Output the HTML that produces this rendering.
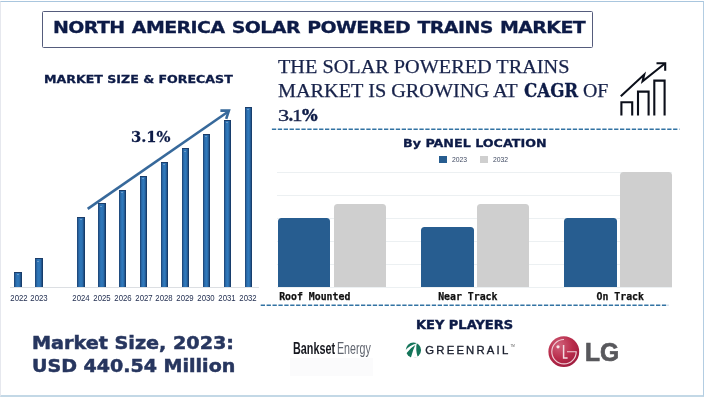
<!DOCTYPE html>
<html lang="en">
<head>
<meta charset="utf-8">
<title>North America Solar Powered Trains Market</title>
<style>
html,body{margin:0;padding:0;background:#fff;}
body{width:708px;height:401px;position:relative;overflow:hidden;font-family:"Liberation Sans",sans-serif;}
.abs{position:absolute;}
.t{position:absolute;white-space:nowrap;line-height:1;transform-origin:0 0;display:inline-block;}
.heavy{font-family:"DejaVu Sans","Liberation Sans",sans-serif;font-weight:bold;}
.frame{position:absolute;left:0;top:1px;width:704px;height:395.8px;box-sizing:border-box;border-top:1px solid #a9c6de;border-right:1.5px solid #b3cde2;border-bottom:2px solid #c3d8e6;border-left:1px solid #e6e8ee;}
.titlebox{position:absolute;left:42.2px;top:11.1px;width:550.7px;height:37.3px;box-sizing:border-box;border:1px solid #555c7c;border-radius:1.5px;}
.lb{position:absolute;bottom:114.2px;width:7.4px;background:linear-gradient(to right,#1b3f6e 0,#2c6fb0 26%,#3079bb 50%,#2b6cab 70%,#12305a 100%);border-top:1px solid #1c3c68;box-sizing:border-box;}
.lb::after{content:"";position:absolute;left:50%;top:1.2px;margin-left:-1.4px;width:0;height:0;border-left:1.4px solid transparent;border-right:1.4px solid transparent;border-top:1.6px solid #a9c0da;}
.yl{position:absolute;top:294px;font-size:8.4px;color:#1d2a4d;line-height:9px;width:30px;text-align:center;transform:scaleX(0.93);transform-origin:50% 50%;}
.grid{position:absolute;left:277px;width:395.4px;height:1px;background:#ecf0f2;}
.rb{position:absolute;border-radius:3.5px 3.5px 0 0;}
.b23{background:#275d90;}
.b32{background:#cfcfcf;}
.cat{position:absolute;top:290.9px;-webkit-text-stroke:0.25px #111;font-family:"DejaVu Sans Mono","Liberation Mono",monospace;font-weight:bold;font-size:9.85px;line-height:12px;color:#111;white-space:nowrap;}
.hd{font-family:"Liberation Serif",serif;font-size:19.5px;color:#17224a;-webkit-text-stroke:0.25px #17224a;}
.sb{font-family:"DejaVu Serif","Liberation Serif",serif;font-weight:bold;color:#0d1b47;-webkit-text-stroke:0.3px #0d1b47;}
</style>
</head>
<body>
<div class="frame"></div>

<!-- Title -->
<div class="titlebox"></div>
<div class="t heavy" id="title" style="transform:scaleX(1.149);left:53px;top:19.9px;font-size:16.5px;letter-spacing:-0.5px;word-spacing:1px;color:#0d1b47;-webkit-text-stroke:0.3px #0d1b47;">NORTH AMERICA SOLAR POWERED TRAINS MARKET</div>

<!-- Left chart -->
<div class="t heavy" id="msf" style="transform:scaleX(1.166);left:44px;top:75px;font-size:10.8px;color:#0d1b47;-webkit-text-stroke:0.3px #0d1b47;">MARKET SIZE &amp; FORECAST</div>

<div class="abs" style="left:10px;top:286.6px;width:249px;height:1px;background:#dcdfe3;"></div>
<div class="lb" style="left:14.3px;height:14.6px;"></div>
<div class="lb" style="left:35.2px;height:28.4px;"></div>
<div class="lb" style="left:77.3px;height:69.7px;"></div>
<div class="lb" style="left:98.2px;height:83.4px;"></div>
<div class="lb" style="left:119.1px;height:97.2px;"></div>
<div class="lb" style="left:140.0px;height:111.3px;"></div>
<div class="lb" style="left:160.9px;height:125px;"></div>
<div class="lb" style="left:181.8px;height:138.5px;"></div>
<div class="lb" style="left:202.8px;height:152.7px;"></div>
<div class="lb" style="left:223.8px;height:166.8px;"></div>
<div class="lb" style="left:244.7px;height:180.3px;"></div>

<div class="yl" style="left:3.6px;">2022</div>
<div class="yl" style="left:23.9px;">2023</div>
<div class="yl" style="left:66.0px;">2024</div>
<div class="yl" style="left:86.86px;">2025</div>
<div class="yl" style="left:107.72px;">2026</div>
<div class="yl" style="left:128.58px;">2027</div>
<div class="yl" style="left:149.44px;">2028</div>
<div class="yl" style="left:170.3px;">2029</div>
<div class="yl" style="left:191.16px;">2030</div>
<div class="yl" style="left:212.02px;">2031</div>
<div class="yl" style="left:232.88px;">2032</div>

<svg class="abs" style="left:0;top:0;" width="708" height="401" viewBox="0 0 708 401">
  <g fill="none" stroke="#37699b" stroke-width="2.6" stroke-linecap="butt" stroke-linejoin="miter">
    <path d="M87.7 208.9 L228 111.8"/>
    <path d="M220.4 110.6 L228.9 110.6 L226.2 118.9"/>
  </g>
  <g stroke="#3273a3" stroke-width="1.6" stroke-dasharray="4.3 1.6" fill="none">
    <path d="M271.9 129.3 H679.4"/>
    <path d="M260.7 305.3 H668.2"/>
  </g>
  <!-- growth icon -->
  <g fill="none" stroke="#0b0f1a" stroke-width="2.1" stroke-linejoin="miter">
    <path d="M621.4 115.6 V102.2 H632.2 V115.6"/>
    <path d="M638 115.6 V91.6 H648.6 V115.6"/>
    <path d="M654.3 115.6 V80.6 H664.6 V115.6"/>
    <path d="M620.8 96.2 L644.2 74.6 L642.6 81.2 L664.6 63.8"/>
    <path d="M656.5 63.3 H665.2 V70.8"/>
  </g>
</svg>
<div class="t" id="pct" style="transform:scaleX(0.955);left:131px;top:130.2px;font-family:'DejaVu Serif','Liberation Serif',serif;font-weight:bold;font-size:15.4px;color:#0d1b47;-webkit-text-stroke:0.3px #0d1b47;">3.1%</div>

<!-- Market size text -->
<div class="t heavy" id="ms1" style="transform:scaleX(1.078);left:32px;top:333.9px;font-size:17.8px;color:#27365f;-webkit-text-stroke:0.5px #27365f;">Market Size, 2023:</div>
<div class="t heavy" id="ms2" style="transform:scaleX(1.07);left:31.8px;top:356.8px;font-size:17.8px;color:#27365f;-webkit-text-stroke:0.5px #27365f;">USD 440.54 Million</div>

<!-- Headline -->
<div class="t hd" id="h1" style="transform:scaleX(1.038);left:277.6px;top:57px;">THE SOLAR POWERED TRAINS</div>
<div class="line"><span class="t hd" id="h2" style="transform:scaleX(1.038);left:277.6px;top:80.5px;">MARKET IS GROWING AT</span> <span class="t sb" id="h2b" style="transform:scaleX(0.94);left:523.8px;top:82.2px;font-size:17.7px;">CAGR</span> <span class="t hd" id="h2c" style="transform:scaleX(1.02);left:583px;top:80.5px;">OF</span></div>
<div class="line"><span class="t hd" id="h3a" style="transform:scaleX(1.28);left:277.8px;top:107.1px;font-size:17.4px;-webkit-text-stroke-width:0.35px;">3</span><span class="t hd" id="h3b" style="left:287.4px;top:98.8px;font-size:27px;">.</span><span class="t hd" id="h3c" style="transform:scaleX(1.35);left:291.6px;top:107.7px;font-size:15.7px;-webkit-text-stroke-width:0.3px;">1</span><span class="t sb" id="h3d" style="transform:scaleX(0.96);left:301.8px;top:106.6px;font-size:17.2px;-webkit-text-stroke-width:0.45px;">%</span></div>


<!-- Right chart -->
<div class="t heavy" id="bpl" style="transform:scaleX(1.135);left:402.6px;top:138.4px;font-size:11.2px;color:#0d1b47;-webkit-text-stroke:0.3px #0d1b47;">By PANEL LOCATION</div>
<div class="abs" style="left:439.3px;top:156px;width:7.8px;height:7.4px;background:#275d90;"></div>
<div class="abs" style="left:452px;top:156px;font-size:6.8px;line-height:8px;color:#414b63;">2023</div>
<div class="abs" style="left:480.3px;top:156px;width:7.8px;height:7.4px;background:#cfcfcf;"></div>
<div class="abs" style="left:493px;top:156px;font-size:6.8px;line-height:8px;color:#414b63;">2032</div>

<div class="grid" style="top:172px;"></div>
<div class="grid" style="top:195px;"></div>
<div class="grid" style="top:217.5px;"></div>
<div class="grid" style="top:240.5px;"></div>
<div class="grid" style="top:263.5px;"></div>
<div class="grid" style="top:286.5px;"></div>

<div class="rb b23" style="left:277.6px;width:52.5px;top:218px;height:68.7px;"></div>
<div class="rb b32" style="left:333.8px;width:52.3px;top:204.2px;height:82.5px;"></div>
<div class="rb b23" style="left:421px;width:52.7px;top:227.4px;height:59.3px;"></div>
<div class="rb b32" style="left:476.7px;width:52.6px;top:204.2px;height:82.5px;"></div>
<div class="rb b23" style="left:563.8px;width:52.8px;top:218px;height:68.7px;"></div>
<div class="rb b32" style="left:619.8px;width:52.4px;top:172px;height:114.7px;"></div>

<div class="cat" style="left:279.2px;">Roof Mounted</div>
<div class="cat" style="left:438.2px;">Near Track</div>
<div class="cat" style="left:596.5px;">On Track</div>

<!-- Key players -->
<div class="t heavy" id="kp" style="transform:scaleX(1.14);left:416px;top:320px;font-size:11.4px;color:#0d1b47;-webkit-text-stroke:0.4px #0d1b47;">KEY PLAYERS</div>

<div class="abs" style="left:290px;top:357.5px;width:83px;height:18.5px;background:#fbfbfc;"></div>
<div class="line"><span class="t" id="bank" style="transform:scaleX(0.685);left:292.7px;top:341.1px;font-size:15.8px;font-weight:bold;color:#16181f;">Bankset</span> <span class="t" id="bank2" style="transform:scaleX(0.675);left:337px;top:341.1px;font-size:15.8px;color:#60656f;">Energy</span></div>

<svg class="abs" style="left:405px;top:341.5px;" width="18" height="17" viewBox="0 0 18 17">
  <circle cx="8.45" cy="8.1" r="7.6" fill="#15755a"/>
  <path d="M11.3 0.6 Q8.1 7.5 5.6 16.5 L12.7 15.2 Q10.3 8 11.8 0.6 Z" fill="#fff"/>
  <path d="M11.6 1.6 Q4.9 3.2 0.2 8.5 L0.8 11.9 Q5.4 5.6 11.4 2.3 Z" fill="#fff"/>
</svg>
<div class="t" id="gr" style="left:425.3px;top:344.7px;font-size:11.3px;letter-spacing:2.2px;color:#1a1f2e;-webkit-text-stroke:0.35px #1a1f2e;">GREENRAIL<span style="font-size:3px;letter-spacing:0;vertical-align:top;position:relative;top:0.5px;-webkit-text-stroke:0;color:#555">TM</span></div>

<svg class="abs" style="left:547px;top:334.8px;" width="34" height="34" viewBox="0 0 34 34">
  <defs>
    <radialGradient id="lgg" cx="0.36" cy="0.3" r="0.85">
      <stop offset="0" stop-color="#d0617a"/>
      <stop offset="0.5" stop-color="#b92c4b"/>
      <stop offset="1" stop-color="#96173a"/>
    </radialGradient>
  </defs>
  <circle cx="16.8" cy="16.7" r="15.4" fill="url(#lgg)"/>
  <path d="M17 4.5 A12.2 12.2 0 1 0 29.2 16.7 H20" fill="none" stroke="#f0cfd7" stroke-width="1.15"/>
  <path d="M16.6 10 V22.9 H20.6" fill="none" stroke="#f3dbe1" stroke-width="1.5"/>
  <circle cx="11" cy="11.8" r="1.6" fill="#f5e3e8"/>
</svg>
<div class="t" id="lg" style="transform:scaleX(0.975);left:584.8px;top:339.8px;font-size:25.2px;font-weight:bold;color:#58585c;-webkit-text-stroke:0.7px #58585c;">LG</div>

</body>
</html>
